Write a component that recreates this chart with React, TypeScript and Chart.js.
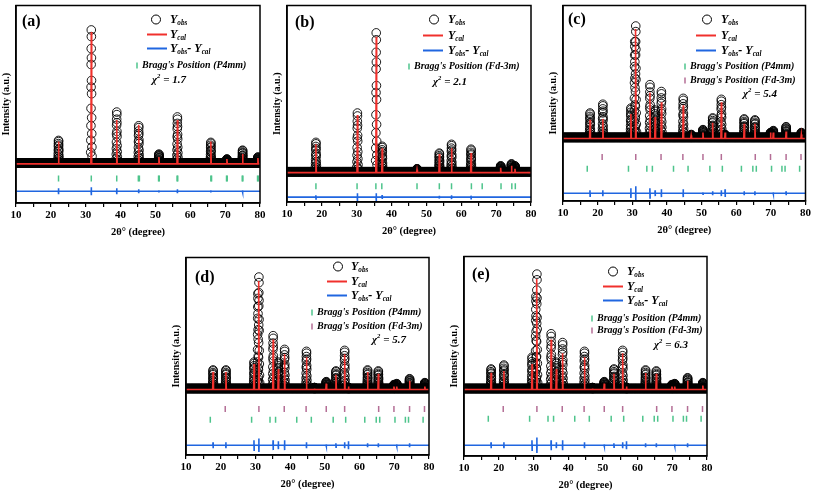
import React, { useEffect, useRef } from "react";
import { Chart, registerables } from "chart.js";
Chart.register(...registerables);

const FONT = '"Liberation Serif", "Times New Roman", serif';
const RED = "#f0302c";
const BLUE = "#2066e0";
const GREEN = "#4ec48c";
const PINK = "#b46e96";

const X_MIN = 10;
const X_MAX = 80;
const X_STEP = 5;
const X_TITLE = "2θ° (degree)";
const Y_TITLE = "Intensity (a.u.)";

// observed-column sampling read from the tall peak columns (offset in degrees, fraction of peak height)
const PROFILE_DX = [0, 0.02, -0.02, 0.04, -0.04, 0.06, -0.06, 0.08, -0.08, 0.1, -0.1, 0.13, -0.13, 0.17, -0.17, 0.22];
const PROFILE_FRAC = [1, 0.95, 0.86, 0.79, 0.74, 0.62, 0.57, 0.52, 0.41, 0.34, 0.28, 0.22, 0.17, 0.12, 0.08, 0.05];
const BASELINE_STEP = 0.1;

// ---------- (a) ----------
const A_POS = [22.2, 31.6, 38.9, 45.2, 51.0, 56.3, 65.9, 70.5, 75.0, 79.4];
const A_OBS = [64, 177, 93, 79, 50, 88, 62, 45, 54, 47];
const A_CAL = [63, 175, 85, 80, 47, 85, 63, 45, 50, 46];
const A_BASE = 40;
const A_BRAGG = [22.2, 31.6, 38.9, 45.1, 45.4, 50.9, 51.1, 56.2, 56.4, 65.9, 66.1, 70.4, 70.6, 74.9, 75.1, 79.3, 79.5];
const A_BRAGG_Y = 25;
const A_DIFF_Y = 12;
const A_DIFF_POS = [22.2, 31.6, 38.9, 45.2, 51.0, 56.3, 65.9, 75.0];
const A_DIFF_AMP = [3, 4, 3, 2, 1, 2, 1, 1];

// ---------- (b) ----------
const B_POS = [18.3, 30.2, 35.6, 37.3, 47.3, 53.7, 57.2, 62.8, 71.3, 74.4, 75.4];
const B_OBS = [61, 91, 173, 57, 34, 50, 59, 54, 37, 39, 37];
const B_CAL = [59, 89, 169, 55, 33, 49, 55, 50, 35, 37, 34];
const B_BASE = 30;
const B_BRAGG = [18.3, 30.1, 35.5, 37.2, 47.3, 53.7, 57.2, 62.9, 66.0, 71.4, 74.5, 75.5];
const B_BRAGG_Y = 16;
const B_DIFF_Y = 5;
const B_DIFF_POS = [18.3, 30.2, 35.6, 37.3, 53.7, 57.2, 62.8];
const B_DIFF_AMP = [2, 4, 4, 2, 1.5, 2, 1.5];

// ---------- (c), (d), (e) ----------
const CDE_POS = [17.8, 21.5, 29.6, 30.7, 31.0, 35.1, 36.6, 38.4, 44.7, 47.0, 50.4, 53.2, 55.7, 56.8, 62.3, 65.4, 69.9, 70.7, 74.4, 78.8];
const C_OBS = [90, 99, 95, 163, 179, 119, 93, 112, 105, 68, 73, 85, 104, 68, 84, 83, 70, 72, 76, 70];
const C_CAL = [83, 84, 89, 64, 176, 111, 86, 101, 98, 67, 70, 80, 101, 70, 79, 79, 70, 70, 71, 68];
const C_BASE = 64;
const D_OBS = [87, 87, 95, 165, 182, 122, 95, 108, 106, 69, 75, 86, 107, 69, 87, 86, 72, 73, 78, 74];
const D_CAL = [85, 85, 93, 67, 178, 118, 88, 103, 100, 68, 73, 82, 103, 70, 85, 83, 70, 70, 76, 70];
const D_BASE = 67;
const E_OBS = [89, 93, 101, 163, 186, 125, 96, 116, 107, 70, 76, 89, 108, 70, 88, 87, 73, 74, 80, 75];
const E_CAL = [85, 87, 94, 68, 181, 119, 89, 105, 101, 69, 74, 84, 105, 71, 85, 84, 71, 71, 77, 72];
const E_BASE = 68;
const PINK_POS = [21.3, 31.0, 38.3, 44.6, 50.4, 55.7, 65.5, 69.9, 74.4, 78.7];
const GREEN_POS = [17.0, 28.9, 34.2, 35.8, 41.9, 46.1, 52.4, 56.0, 61.5, 64.8, 65.8, 70.2, 73.2, 74.1, 78.3];
const CDE_DIFF_POS = [17.8, 21.5, 29.6, 31.0, 35.1, 36.6, 38.4, 44.7, 50.4, 53.2, 55.7, 56.8, 62.3, 65.4, 70.7, 74.4];
const C_DIFF_AMP = [3, 3, 5, 7, 5, 3, 4, 4, 1, 2, 3, 4, 2, 2, 1, 2];
const D_DIFF_AMP = [3, 3, 5, 7, 5, 4, 5, 3, 1, 2, 3, 4, 2, 2, 1, 2];
const E_DIFF_AMP = [3, 3, 5, 8, 5, 3, 5, 3, 1, 2, 3, 4, 2, 2, 1, 2];
const C_ROWS = { pink: 45, green: 33, diff: 8 };
const D_ROWS = { pink: 47, green: 36, diff: 10 };
const E_ROWS = { pink: 48, green: 38, diff: 11 };

const P4MM = "Bragg's Position (P4mm)";
const FD3M = "Bragg's Position (Fd-3m)";

type Bragg = { pos: number[]; y: number; color: string; label: string; lx: number; ly: number };
type Panel = {
  tag: string;
  frame: [number, number, number, number]; // L T R B (page px)
  pos: number[]; obs: number[]; cal: number[]; base: number;
  bragg: Bragg[];
  diffY: number; diffPos: number[]; diffAmp: number[];
  tagXY: [number, number];
  circle: [number, number]; textX: number; lineX: [number, number]; calY: number; diffLY: number;
  chi: [number, number, string];
};

const PANELS: Panel[] = [
  {
    tag: "(a)", frame: [16, 1, 260, 203], pos: A_POS, obs: A_OBS, cal: A_CAL, base: A_BASE,
    bragg: [{ pos: A_BRAGG, y: A_BRAGG_Y, color: GREEN, label: P4MM, lx: 121, ly: 60 }],
    diffY: A_DIFF_Y, diffPos: A_DIFF_POS, diffAmp: A_DIFF_AMP,
    tagXY: [6, 16], circle: [140, 14], textX: 154, lineX: [131, 151], calY: 29, diffLY: 43, chi: [136, 75, "1.7"],
  },
  {
    tag: "(b)", frame: [287, 1, 531, 202], pos: B_POS, obs: B_OBS, cal: B_CAL, base: B_BASE,
    bragg: [{ pos: B_BRAGG, y: B_BRAGG_Y, color: GREEN, label: FD3M, lx: 122, ly: 61 }],
    diffY: B_DIFF_Y, diffPos: B_DIFF_POS, diffAmp: B_DIFF_AMP,
    tagXY: [8, 17], circle: [147, 14], textX: 161, lineX: [136, 156], calY: 30, diffLY: 45, chi: [146, 77, "2.1"],
  },
  {
    tag: "(c)", frame: [563, 1, 806, 201], pos: CDE_POS, obs: C_OBS, cal: C_CAL, base: C_BASE,
    bragg: [
      { pos: PINK_POS, y: C_ROWS.pink, color: PINK, label: FD3M, lx: 122, ly: 75 },
      { pos: GREEN_POS, y: C_ROWS.green, color: GREEN, label: P4MM, lx: 122, ly: 61 },
    ],
    diffY: C_ROWS.diff, diffPos: CDE_DIFF_POS, diffAmp: C_DIFF_AMP,
    tagXY: [5, 14], circle: [144, 14], textX: 158, lineX: [133, 153], calY: 30, diffLY: 45, chi: [180, 89, "5.4"],
  },
  {
    tag: "(d)", frame: [186, 253, 429, 455], pos: CDE_POS, obs: D_OBS, cal: D_CAL, base: D_BASE,
    bragg: [
      { pos: PINK_POS, y: D_ROWS.pink, color: PINK, label: FD3M, lx: 126, ly: 69 },
      { pos: GREEN_POS, y: D_ROWS.green, color: GREEN, label: P4MM, lx: 126, ly: 55 },
    ],
    diffY: D_ROWS.diff, diffPos: CDE_DIFF_POS, diffAmp: D_DIFF_AMP,
    tagXY: [9, 20], circle: [152, 9], textX: 165, lineX: [141, 161], calY: 24, diffLY: 38, chi: [186, 83, "5.7"],
  },
  {
    tag: "(e)", frame: [464, 252, 707, 456], pos: CDE_POS, obs: E_OBS, cal: E_CAL, base: E_BASE,
    bragg: [
      { pos: PINK_POS, y: E_ROWS.pink, color: PINK, label: FD3M, lx: 128, ly: 74 },
      { pos: GREEN_POS, y: E_ROWS.green, color: GREEN, label: P4MM, lx: 128, ly: 62 },
    ],
    diffY: E_ROWS.diff, diffPos: CDE_DIFF_POS, diffAmp: E_DIFF_AMP,
    tagXY: [8, 18], circle: [149, 15], textX: 163, lineX: [139, 159], calY: 30, diffLY: 44, chi: [190, 89, "6.3"],
  },
];

function obsPoints(p: Panel) {
  const pts: { x: number; y: number }[] = [];
  const n = Math.round((X_MAX - X_MIN) / BASELINE_STEP);
  for (let i = 0; i <= n; i++) pts.push({ x: X_MIN + i * BASELINE_STEP, y: p.base + 1 });
  p.pos.forEach((x0, i) => {
    const h = p.obs[i] - (p.base + 1);
    PROFILE_DX.forEach((dx, k) => pts.push({ x: x0 + dx, y: p.base + 1 + h * PROFILE_FRAC[k] }));
  });
  return pts;
}

function calPoints(p: Panel) {
  const pts: { x: number; y: number }[] = [{ x: X_MIN, y: p.base }];
  p.pos.forEach((x0, i) => {
    pts.push({ x: x0 - 0.12, y: p.base }, { x: x0, y: p.cal[i] }, { x: x0 + 0.12, y: p.base });
  });
  pts.push({ x: X_MAX, y: p.base });
  return pts;
}

function diffPoints(p: Panel) {
  const pts: { x: number; y: number }[] = [{ x: X_MIN, y: p.diffY }];
  p.diffPos.forEach((x0, i) => {
    const a = p.diffAmp[i];
    pts.push(
      { x: x0 - 0.05, y: p.diffY },
      { x: x0 - 0.02, y: p.diffY + a },
      { x: x0 + 0.02, y: p.diffY - a },
      { x: x0 + 0.05, y: p.diffY }
    );
  });
  pts.push({ x: X_MAX, y: p.diffY });
  return pts;
}

type Part = { t: string; k?: "sub" | "sup" };
function drawRich(ctx: CanvasRenderingContext2D, x: number, y: number, parts: Part[], size: number) {
  let cx = x;
  ctx.textBaseline = "middle";
  ctx.textAlign = "left";
  for (const pt of parts) {
    const s = pt.k ? size * 0.6 : size;
    ctx.font = `italic bold ${s}px ${FONT}`;
    const dy = pt.k === "sub" ? size * 0.32 : pt.k === "sup" ? -size * 0.38 : 0;
    ctx.fillText(pt.t, cx, y + dy);
    cx += ctx.measureText(pt.t).width;
  }
}

function makeDecor(p: Panel) {
  return {
    id: "decor" + p.tag,
    afterDatasetsDraw(chart: any) {
      const { ctx, chartArea: ca } = chart;
      const L = ca.left, T = ca.top;
      ctx.save();
      ctx.strokeStyle = "#000";
      ctx.lineWidth = 1.5;
      ctx.strokeRect(ca.left, ca.top, ca.right - ca.left, ca.bottom - ca.top);
      // panel tag
      ctx.fillStyle = "#000";
      ctx.font = `bold 16px ${FONT}`;
      ctx.textBaseline = "middle";
      ctx.textAlign = "left";
      ctx.fillText(p.tag, L + p.tagXY[0], T + p.tagXY[1]);
      // Yobs
      ctx.beginPath();
      ctx.lineWidth = 1;
      ctx.arc(L + p.circle[0], T + p.circle[1], 4.5, 0, Math.PI * 2);
      ctx.stroke();
      drawRich(ctx, L + p.textX, T + p.circle[1], [{ t: "Y" }, { t: "obs", k: "sub" }], 12);
      // Ycal
      ctx.beginPath();
      ctx.strokeStyle = RED;
      ctx.lineWidth = 2;
      ctx.moveTo(L + p.lineX[0], T + p.calY);
      ctx.lineTo(L + p.lineX[1], T + p.calY);
      ctx.stroke();
      drawRich(ctx, L + p.textX, T + p.calY, [{ t: "Y" }, { t: "cal", k: "sub" }], 12);
      // diff
      ctx.beginPath();
      ctx.strokeStyle = BLUE;
      ctx.moveTo(L + p.lineX[0], T + p.diffLY);
      ctx.lineTo(L + p.lineX[1], T + p.diffLY);
      ctx.stroke();
      drawRich(ctx, L + p.textX, T + p.diffLY, [{ t: "Y" }, { t: "obs", k: "sub" }, { t: "- Y" }, { t: "cal", k: "sub" }], 12);
      // bragg
      for (const b of p.bragg) {
        ctx.beginPath();
        ctx.strokeStyle = b.color;
        ctx.lineWidth = 1.5;
        ctx.moveTo(L + b.lx, T + b.ly - 3);
        ctx.lineTo(L + b.lx, T + b.ly + 3);
        ctx.stroke();
        drawRich(ctx, L + b.lx + 5, T + b.ly, [{ t: b.label }], 10);
      }
      drawRich(ctx, L + p.chi[0], T + p.chi[1], [{ t: "χ" }, { t: "2", k: "sup" }, { t: " = " + p.chi[2] }], 11);
      ctx.restore();
    },
  };
}

function PanelChart({ p }: { p: Panel }) {
  const ref = useRef<HTMLCanvasElement>(null);
  const [L, T, R, B] = p.frame;
  const padR = Math.min(9, 813 - R);
  const cw = R - L + 17 + padR;
  const ch = B - T + 1 + 42;
  useEffect(() => {
    const datasets: any[] = [
      {
        label: "Ycal", data: calPoints(p), showLine: true, borderColor: RED, borderWidth: 1.6,
        pointRadius: 0, tension: 0, order: 1,
      },
      {
        label: "Yobs-Ycal", data: diffPoints(p), showLine: true, borderColor: BLUE, borderWidth: 1.6,
        pointRadius: 0, tension: 0, order: 2,
      },
      ...p.bragg.map((b) => ({
        label: b.label, data: b.pos.map((x) => ({ x, y: b.y })), pointStyle: "line", rotation: 90,
        pointRadius: 3, borderColor: b.color, borderWidth: 1.5, order: 3,
      })),
      {
        label: "Yobs", data: obsPoints(p), pointStyle: "circle", pointRadius: 4.3,
        borderColor: "#000", borderWidth: 0.9, backgroundColor: "rgba(0,0,0,0)", order: 5,
      },
    ];
    const chart = new Chart(ref.current!, {
      type: "scatter",
      data: { datasets },
      options: {
        responsive: false,
        animation: false,
        events: [],
        layout: { padding: { top: 1, right: padR, left: 0, bottom: 0 } },
        plugins: { legend: { display: false }, tooltip: { enabled: false } },
        scales: {
          x: {
            type: "linear", min: X_MIN, max: X_MAX,
            afterFit: (s: any) => { s.height = 42; },
            border: { display: true, color: "#000", width: 1.5 },
            grid: { display: true, drawOnChartArea: false, drawTicks: true, tickLength: 4, color: "#000", lineWidth: 1.2 },
            ticks: {
              stepSize: X_STEP, autoSkip: false, maxRotation: 0, padding: 2, color: "#000",
              font: { family: FONT, size: 11, weight: "bold" },
              callback: (v: any) => (Number(v) % 10 === 0 ? String(v) : ""),
            },
            title: { display: true, text: X_TITLE, color: "#000", font: { family: FONT, size: 10.5, weight: "bold" }, padding: { top: 0, bottom: 6 } },
          },
          y: {
            type: "linear", min: 0, max: B - T,
            afterFit: (s: any) => { s.width = 17; },
            border: { display: true, color: "#000", width: 1.5 },
            grid: { display: false },
            ticks: { display: false },
            title: { display: true, text: Y_TITLE, color: "#000", font: { family: FONT, size: 10, weight: "bold" }, padding: { top: 1, bottom: 0 } },
          },
        },
      },
      plugins: [makeDecor(p)],
    } as any);
    return () => chart.destroy();
  }, []);
  return (
    <canvas
      ref={ref}
      width={cw}
      height={ch}
      style={{ position: "absolute", left: L - 17, top: T - 1, width: cw, height: ch }}
    />
  );
}

export default function App() {
  return (
    <div style={{ position: "absolute", left: 0, top: 0, width: 813, height: 494, overflow: "hidden", background: "#fff" }}>
      {PANELS.map((p) => (
        <PanelChart key={p.tag} p={p} />
      ))}
    </div>
  );
}
